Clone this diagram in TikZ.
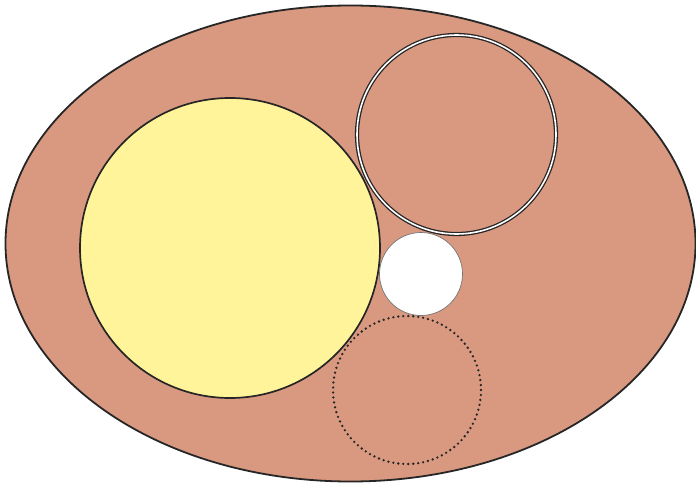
\documentclass[tikz,border=0pt]{standalone}
\definecolor{tissue}{RGB}{217,153,128}
\definecolor{paleyellow}{RGB}{255,244,153}
\begin{document}
\begin{tikzpicture}[x=1pt,y=-1pt,line join=round]
\useasboundingbox (0,0) rectangle (696,484);
\filldraw[fill=tissue,draw=black!85,line width=1.8pt] (350.5,243.5) ellipse [x radius=345,y radius=238];
\filldraw[fill=paleyellow,draw=black!85,line width=1.7pt] (230,248) circle [radius=150];
\draw[draw=black!85,line width=1.3pt,double=white,double distance=1.6pt] (456.5,134.5) circle [radius=99.5];
\filldraw[fill=white,draw=black!55,line width=0.7pt] (421,274) circle [radius=41.5];
\draw[black!85,line width=2.6pt,line cap=round,dash pattern=on 0pt off 5pt] (407,390) circle [radius=74];
\end{tikzpicture}
\end{document}
